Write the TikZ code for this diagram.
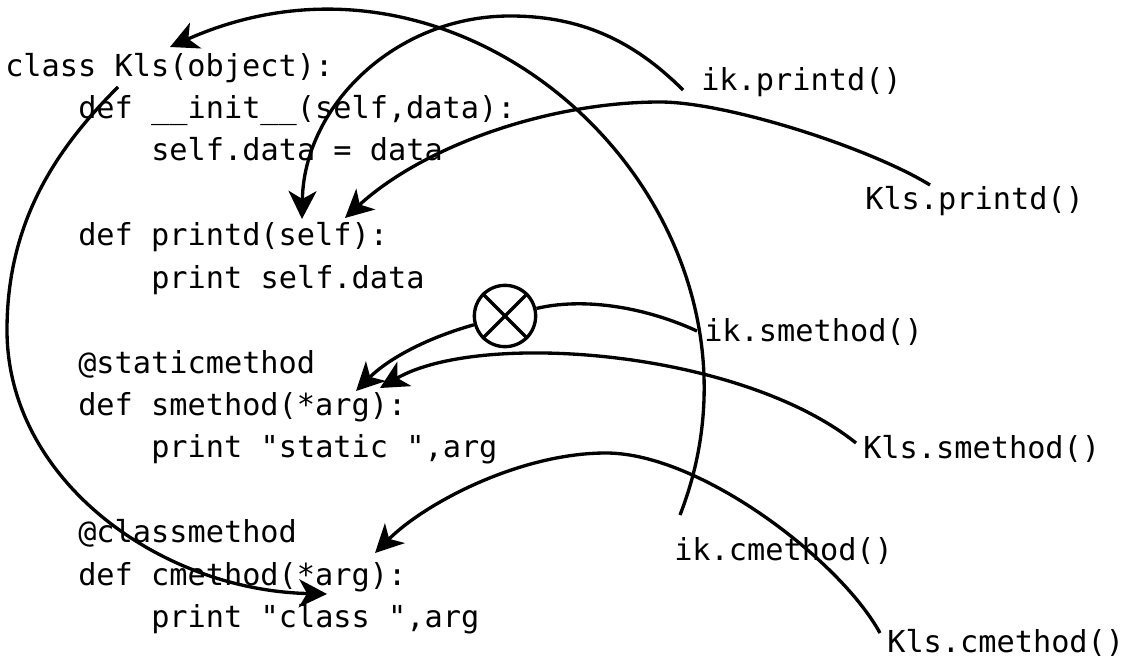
\documentclass[tikz,border=0pt]{standalone}
\usepackage{fontspec}
\setmonofont{DejaVu Sans Mono}
\usetikzlibrary{arrows.meta}
\newcommand\codefnt{\ttfamily\fontsize{22.7pt}{27pt}\selectfont}
\begin{document}
\begin{tikzpicture}[x=0.75pt,y=-0.75pt,
  code/.style={anchor=base west,inner sep=0pt,font=\codefnt},
  conn/.style={line width=2.5pt,-{Stealth[length=21pt,width=21pt,inset=6pt]}},
  plain/.style={line width=2.5pt},
  xcirc/.style={circle,draw,line width=2.5pt,minimum size=46pt,inner sep=0pt}]
\fill[white] (0,0) rectangle (1127,659);
\useasboundingbox (0,0) rectangle (1127,659);
% code lines
\node[code] (l1) at (5,77) {class Kls(object):};
\node[code] (l2) at (78,119) {def \_\_init\_\_(self,data):};
\node[code] (l3) at (151,161) {self.data = data};
\node[code] (l4) at (78,246) {def printd(self):};
\node[code] (l5) at (151,288) {print self.data};
\node[code] (l6) at (78,373) {@staticmethod};
\node[code] (l7) at (78,415) {def smethod(*arg):};
\node[code] (l8) at (151,457) {print "static ",arg};
\node[code] (l9) at (78,542) {@classmethod};
\node[code] (l10) at (78,585) {def cmethod(*arg):};
\node[code] (l11) at (151,627) {print "class ",arg};
% call labels
\node[code] (ikp) at (701,91) {ik.printd()};
\node[code] (klp) at (865,210) {Kls.printd()};
\node[code] (iks) at (704,341) {ik.smethod()};
\node[code] (kls) at (863,458) {Kls.smethod()};
\node[code] (ikc) at (674,560) {ik.cmethod()};
\node[code] (klc) at (887,652) {Kls.cmethod()};
% crossed circle
\node[xcirc] (xc) at (505,316) {};
\draw[plain] (xc.45) -- (xc.225);
\draw[plain] (xc.135) -- (xc.315);
% connector ends
\coordinate (sA) at (680,515); \coordinate (tA) at (170,47);
\coordinate (sB) at (683,90); \coordinate (topB) at (510,16); \coordinate (tB) at (302,219);
\coordinate (sC) at (930,185); \coordinate (topC) at (660,102); \coordinate (tC) at (345,218);
\coordinate (sD) at (697,331); \coordinate (tD) at (356,391);
\coordinate (sE) at (856,443); \coordinate (tE) at (380,388);
\coordinate (sF) at (880,633); \coordinate (topF) at (606,453); \coordinate (tF) at (375,553);
\coordinate (sG) at (118,87); \coordinate (leftG) at (7,330); \coordinate (tG) at (327,594);
% connectors
\draw[conn] (sA) .. controls (795,220) and (478,-90) .. (tA);
\draw[conn] (sB) .. controls (633,40) and (580,16) .. (topB) .. controls (395,16) and (304,106) .. (tB);
\draw[conn] (sC) .. controls (870,148) and (727,102) .. (topC) .. controls (550,102) and (425,145) .. (tC);
\draw[plain] (sD) .. controls (640,305) and (580,298) .. (xc);
\draw[conn] (xc) .. controls (420,340) and (385,362) .. (tD);
\draw[conn] (sE) .. controls (740,350) and (480,330) .. (tE);
\draw[conn] (sF) .. controls (840,560) and (700,453) .. (topF) .. controls (520,453) and (425,503) .. (tF);
\draw[conn] (sG) .. controls (58,147) and (7,220) .. (leftG) .. controls (7,480) and (160,590) .. (tG);
\end{tikzpicture}
\end{document}
